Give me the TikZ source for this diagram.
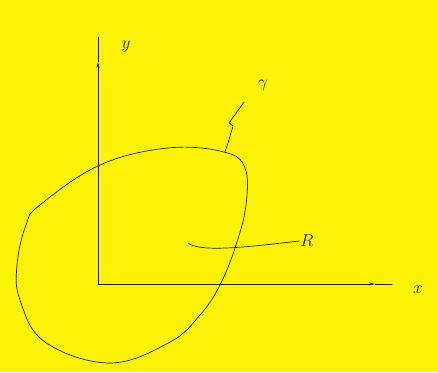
\documentclass[tikz,border=0pt]{standalone}
\usetikzlibrary{arrows.meta}
\definecolor{bgyellow}{RGB}{252,242,8}
\definecolor{ink}{RGB}{40,35,20}
\begin{document}
\begin{tikzpicture}[x=1pt,y=-1pt,
  ink line/.style={draw=ink,line width=0.7pt,line cap=round,line join=round},
  lbl/.style={text=ink,font=\LARGE,inner sep=1pt}]
\fill[bgyellow] (0,0) rectangle (438,372);
\useasboundingbox (0,0) rectangle (438,372);
% axes
\coordinate (O) at (98,284);
\coordinate (xend) at (392,284);
\coordinate (yend) at (98,37);
\draw[ink line,-{Stealth[length=6pt,width=3pt]}] (O) -- (375,284);
\draw[ink line] (375,284) -- (xend);
\draw[ink line,-{Stealth[length=6pt,width=3pt]}] (O) -- (98,62);
\draw[ink line] (98,62) -- (yend);
\node[lbl] (xl) at (418,290) {$x$};
\node[lbl] (yl) at (126,46) {$y$};
% region boundary
\draw[ink line] plot[smooth cycle,tension=0.65] coordinates {
  (224,152) (245,168) (246,205) (236,245) (220,285) (200,315) (170,342)
  (110,363) (45,342) (20,300) (17,265) (26,225) (40,205) (100,165) (168,148)};
% gamma label and leader
\coordinate (g0) at (225,152);
\node[lbl] (gl) at (263,85) {$\gamma$};
\draw[ink line] (g0) -- (228,143) -- (233,126) -- (229,123) -- (244,102);
% R label and leader
\node[lbl] (rl) at (307,241) {$R$};
\coordinate (r0) at (188,243);
\draw[ink line] (r0) .. controls (200,252) and (240,248) .. (rl.west);
\end{tikzpicture}
\end{document}
